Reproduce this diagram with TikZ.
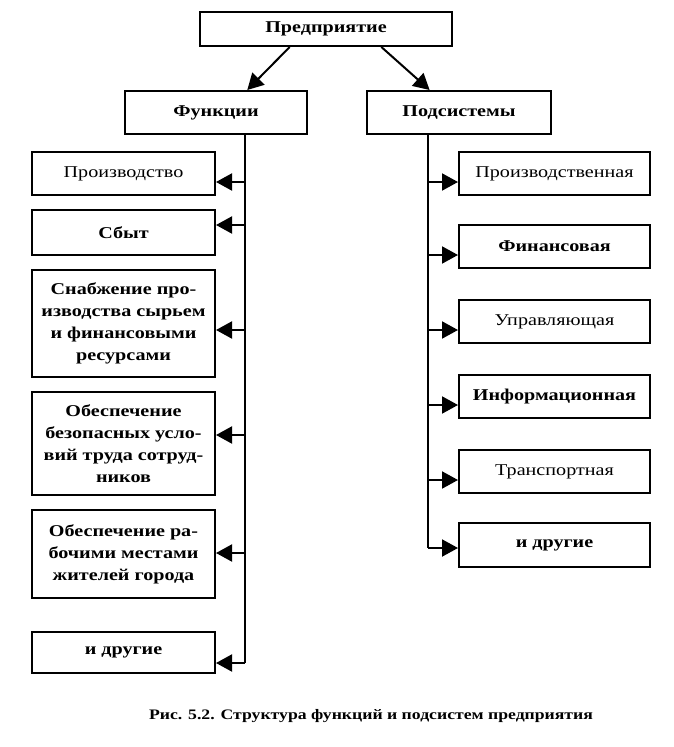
\documentclass[tikz,border=0pt]{standalone}
\usepackage{fontspec}
\setmainfont[FakeStretch=1.22]{Liberation Serif}
\usetikzlibrary{arrows.meta,calc}
\begin{document}
\begin{tikzpicture}[x=1pt,y=-1pt,
  box/.style={draw,line width=2pt,inner sep=0pt,align=center,font=\fontsize{16.5}{22}\selectfont},
  bbox/.style={box,font=\fontsize{16.5}{22}\selectfont\bfseries},
  link/.style={line width=2pt},
  arr/.style={line width=2pt,-{Triangle[length=16pt,width=17pt]}}]
\useasboundingbox (0,0) rectangle (674,747);
% top
\node[bbox,minimum width=252pt,minimum height=34pt] (P) at (326,29) {Предприятие};
\node[bbox,minimum width=182pt,minimum height=43pt] (F) at (216,112.5) {Функции};
\node[bbox,minimum width=184pt,minimum height=43pt] (S) at (459,112.5) {Подсистемы};
\draw[arr] ($(P.south west)!0.357!(P.south east)$) -- ($(F.north west)!0.67!(F.north east)$);
\draw[arr] ($(P.south west)!0.718!(P.south east)$) -- ($(S.north west)!0.342!(S.north east)$);
% left column
\node[box,minimum width=183pt,minimum height=43pt] (f1) at (123.5,173.5) {Производство};
\node[bbox,minimum width=183pt,minimum height=45pt] (f2) at (123.5,232.5) {Сбыт};
\node[bbox,minimum width=183pt,minimum height=107pt] (f3) at (123.5,323.5) {Снабжение про-\\изводства сырьем\\и финансовыми\\ресурсами};
\node[bbox,minimum width=183pt,minimum height=103pt] (f4) at (123.5,443.5) {Обеспечение\\безопасных усло-\\вий труда сотруд-\\ников};
\node[bbox,minimum width=183pt,minimum height=88pt] (f5) at (123.5,554) {Обеспечение ра-\\бочими местами\\жителей города};
\node[bbox,minimum width=183pt,minimum height=41pt] (f6) at (123.5,652.5) {и другие};
\coordinate (l1) at (245,182);
\coordinate (l2) at (245,225);
\coordinate (l3) at (245,330);
\coordinate (l4) at (245,435);
\coordinate (l5) at (245,553);
\coordinate (l6) at (245,663);
\draw[link] (F.south -| l1) -- (l6);
\foreach \i in {1,...,6}{\draw[arr] (l\i) -- (l\i -| f\i.east);}
% right column
\node[box,minimum width=191pt,minimum height=43pt] (s1) at (554.5,173.5) {Производственная};
\node[bbox,minimum width=191pt,minimum height=43pt] (s2) at (554.5,246.5) {Финансовая};
\node[box,minimum width=191pt,minimum height=43pt] (s3) at (554.5,321.5) {Управляющая};
\node[bbox,minimum width=191pt,minimum height=43pt] (s4) at (554.5,396.5) {Информационная};
\node[box,minimum width=191pt,minimum height=43pt] (s5) at (554.5,471.5) {Транспортная};
\node[bbox,minimum width=191pt,minimum height=44pt] (s6) at (554.5,545) {и другие};
\coordinate (r1) at (428,182);
\coordinate (r2) at (428,255);
\coordinate (r3) at (428,330);
\coordinate (r4) at (428,405);
\coordinate (r5) at (428,480);
\coordinate (r6) at (428,548);
\draw[link] (S.south -| r1) -- (r6);
\foreach \i in {1,...,6}{\draw[arr] (r\i) -- (r\i -| s\i.west);}
% caption
\node[font=\fontsize{14.5}{18}\selectfont\bfseries] (cap) at (371,716) {Рис. 5.2. Структура функций и подсистем предприятия};
\end{tikzpicture}
\end{document}
